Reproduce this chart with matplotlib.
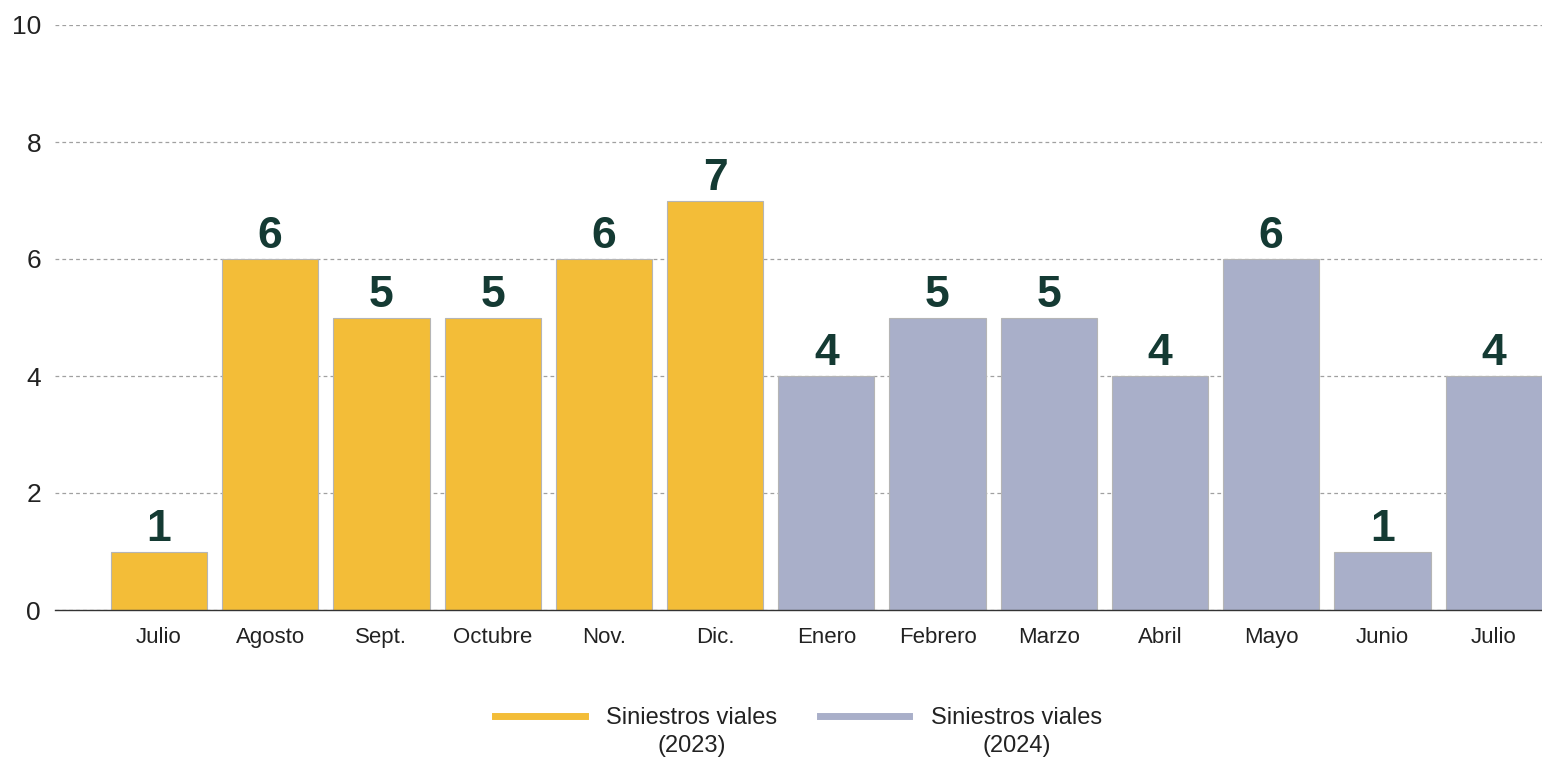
import matplotlib
matplotlib.use("Agg")
import matplotlib.pyplot as plt
from matplotlib.lines import Line2D

months = ["Julio", "Agosto", "Sept.", "Octubre", "Nov.", "Dic.",
          "Enero", "Febrero", "Marzo", "Abril", "Mayo", "Junio", "Julio"]
values = [1, 6, 5, 5, 6, 7, 4, 5, 5, 4, 6, 1, 4]
years = [2023] * 6 + [2024] * 7
series_names = ["Siniestros viales", "Siniestros viales"]
series_years = ["(2023)", "(2024)"]
colors = {2023: "#F3BD38", 2024: "#A9AFC9"}
yticks = [0, 2, 4, 6, 8, 10]

plt.rcParams['font.family'] = ['Liberation Sans', 'DejaVu Sans']

fig = plt.figure(figsize=(15.42, 7.59), dpi=100)
ax = fig.add_axes([55/1542, 1 - 610/759, 1 - 55/1542, (610 - 25)/759])

x = list(range(len(months)))
bars = ax.bar(x, values, width=0.865, color=[colors[y] for y in years],
              edgecolor="#B5B5B5", linewidth=0.8, zorder=3)

for xi, v in zip(x, values):
    ax.text(xi, v + 0.03, str(v), ha="center", va="bottom", fontsize=32,
            fontweight="bold", color="#143A33", zorder=4)

ax.set_ylim(0, 10)
ax.set_xlim(-0.935, 12.435)
ax.set_yticks(yticks)
ax.set_yticklabels([str(t) for t in yticks], fontsize=19, color="#222222")
ax.set_xticks(x)
ax.set_xticklabels(months, fontsize=16, color="#222222")
ax.tick_params(axis="both", length=0)
ax.tick_params(axis="y", pad=10)
ax.tick_params(axis="x", pad=12)

ax.grid(axis="y", linestyle=(0, (3, 2.5)), color="#A0A0A0", linewidth=0.9, zorder=0)
for s in ["top", "right", "left"]:
    ax.spines[s].set_visible(False)
ax.spines["bottom"].set_color("#333333")
ax.spines["bottom"].set_linewidth(1.0)
ax.spines["bottom"].set_zorder(5)

handles = [Line2D([0], [0], color=colors[2023], lw=5),
           Line2D([0], [0], color=colors[2024], lw=5)]
leg = ax.legend(handles, series_names,
                loc="center", bbox_to_anchor=(0.5, -0.185), ncol=2,
                frameon=False, fontsize=17, handlelength=3.8, handletextpad=0.9,
                columnspacing=1.8, borderpad=0.2)
for t in leg.get_texts():
    t.set_color("#222222")

fig.canvas.draw()
renderer = fig.canvas.get_renderer()
inv = fig.transFigure.inverted()
for t, yr in zip(leg.get_texts(), series_years):
    bb = t.get_window_extent(renderer)
    cx = (bb.x0 + bb.x1) / 2
    cy = (bb.y0 + bb.y1) / 2 - 28
    fx, fy = inv.transform((cx, cy))
    fig.text(fx, fy, yr, ha="center", va="center", fontsize=17, color="#222222")

fig.savefig("out.png", dpi=100)
